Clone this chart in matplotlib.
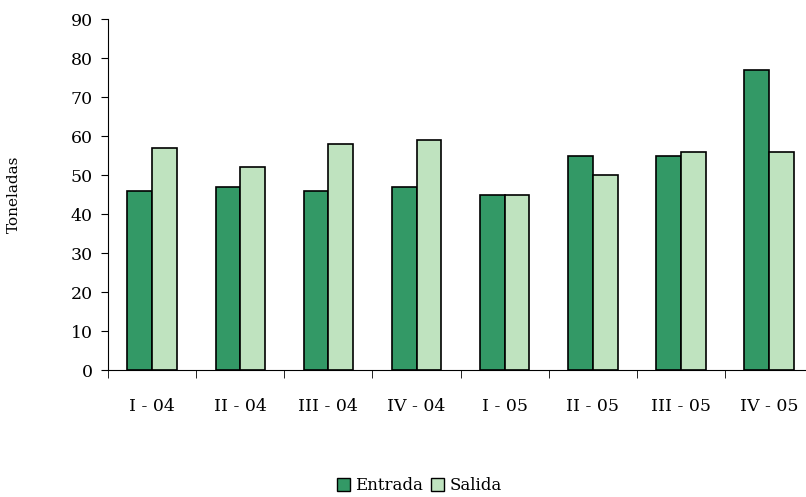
import matplotlib.pyplot as plt
import numpy as np
from matplotlib.patches import Patch

# data
periodos = ['I - 04', 'II - 04', 'III - 04', 'IV - 04', 'I - 05', 'II - 05', 'III - 05', 'IV - 05']
entrada = [46, 47, 46, 47, 45, 55, 55, 77]
salida = [57, 52, 58, 59, 45, 50, 56, 56]

plt.rcParams['font.family'] = ['DejaVu Serif']

fig = plt.figure(figsize=(8.06, 4.97), dpi=100)
ax = fig.add_axes([0.134, 0.2555, 0.875, 0.706])

x = np.arange(len(periodos))
w = 0.28
ax.bar(x - w / 2, entrada, w, color='#339966', edgecolor='black', linewidth=1.2)
ax.bar(x + w / 2, salida, w, color='#bfe3bf', edgecolor='black', linewidth=1.2)

ax.set_xlim(-0.5, len(periodos) - 0.5)
ax.set_ylim(0, 90)
ax.set_yticks(range(0, 91, 10))
ax.set_xticks(x)
ax.set_xticklabels(periodos)
ax.set_xticks(np.arange(-0.5, len(periodos), 1), minor=True)
ax.tick_params(axis='x', which='major', length=0, pad=20, labelsize=12.5)
ax.tick_params(axis='x', which='minor', length=6, direction='out')
ax.tick_params(axis='y', length=5, labelsize=12.5, pad=6)

for s in ['top', 'right']:
    ax.spines[s].set_visible(False)

ax.set_ylabel('Toneladas', fontsize=11, labelpad=36)

handles = [Patch(facecolor='#339966', edgecolor='black', label='Entrada'),
           Patch(facecolor='#bfe3bf', edgecolor='black', label='Salida')]
fig.legend(handles=handles, loc='lower center', bbox_to_anchor=(0.52, -0.025), ncol=2,
           frameon=False, fontsize=12, handlelength=0.8, handleheight=0.8,
           handletextpad=0.3, columnspacing=0.5)

fig.savefig('out.png', dpi=100)
